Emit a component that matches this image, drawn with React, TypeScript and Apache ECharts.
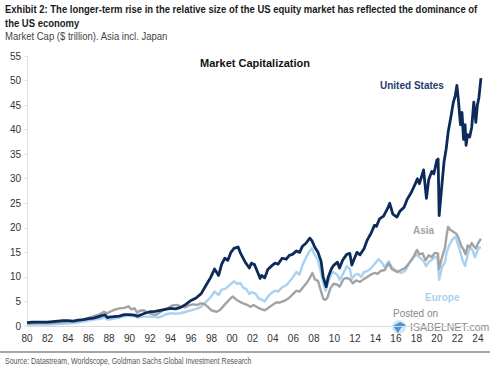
import React, { useEffect, useRef } from "react";
import * as echarts from "echarts";

// [year, $ trillion]
const usData: [number, number][] = [
  [1980.0, 0.7], [1980.5, 0.8], [1981.0, 0.8], [1981.5, 0.8], [1982.0, 0.8], [1982.5, 0.9],
  [1983.0, 1.0], [1983.5, 1.1], [1984.0, 1.1], [1984.5, 1.0], [1985.0, 1.2], [1985.5, 1.3],
  [1986.0, 1.5], [1986.5, 1.6], [1987.0, 1.9], [1987.6, 2.3], [1987.85, 1.7], [1988.0, 1.8],
  [1988.5, 1.9], [1989.0, 2.0], [1989.5, 2.3], [1990.0, 2.3], [1990.5, 2.2], [1990.8, 2.0],
  [1991.0, 2.2], [1991.5, 2.6], [1992.0, 2.9], [1992.5, 3.0], [1993.0, 3.2], [1993.5, 3.4],
  [1994.0, 3.6], [1994.5, 3.5], [1995.0, 3.8], [1995.5, 4.4], [1996.0, 5.2], [1996.5, 5.7],
  [1997.0, 6.6], [1997.5, 8.4], [1997.9, 9.8], [1998.3, 11.6], [1998.7, 10.3], [1999.0, 12.6],
  [1999.3, 13.8], [1999.6, 13.4], [1999.9, 15.0], [2000.2, 15.8], [2000.6, 16.1], [2000.8, 15.0],
  [2001.0, 14.2], [2001.3, 13.0], [2001.7, 11.8], [2001.9, 12.8], [2002.2, 12.5], [2002.5, 11.0],
  [2002.75, 9.7], [2002.9, 10.3], [2003.2, 9.8], [2003.5, 11.5], [2003.9, 12.3], [2004.2, 12.8],
  [2004.5, 12.6], [2004.9, 13.8], [2005.3, 13.6], [2005.6, 14.4], [2005.9, 14.6], [2006.3, 15.3],
  [2006.6, 15.0], [2006.9, 16.3], [2007.2, 16.8], [2007.6, 17.9], [2007.8, 17.4], [2008.1, 16.0],
  [2008.4, 15.0], [2008.7, 13.2], [2008.9, 10.0], [2009.2, 8.0], [2009.4, 10.0], [2009.7, 11.6],
  [2009.9, 12.3], [2010.3, 13.0], [2010.5, 11.8], [2010.8, 13.4], [2011.2, 14.6], [2011.5, 14.8],
  [2011.7, 12.4], [2011.9, 13.5], [2012.2, 15.0], [2012.5, 14.5], [2012.9, 15.8], [2013.2, 17.5],
  [2013.6, 19.0], [2013.9, 20.5], [2014.1, 20.3], [2014.4, 21.8], [2014.8, 22.4], [2015.2, 24.0],
  [2015.4, 25.0], [2015.7, 22.8], [2016.1, 22.2], [2016.4, 23.4], [2016.8, 24.2], [2017.1, 25.8],
  [2017.5, 27.2], [2017.9, 29.0], [2018.1, 30.0], [2018.3, 29.0], [2018.7, 31.8], [2018.98, 26.0],
  [2019.2, 29.8], [2019.5, 31.5], [2019.7, 31.0], [2020.0, 33.8], [2020.12, 34.0], [2020.22, 22.5],
  [2020.5, 29.0], [2020.7, 33.5], [2020.9, 36.0], [2021.1, 39.5], [2021.4, 43.0], [2021.6, 45.5],
  [2021.8, 47.0], [2021.95, 49.0], [2022.1, 46.0], [2022.3, 41.0], [2022.45, 43.5], [2022.6, 38.0],
  [2022.75, 41.0], [2022.85, 36.8], [2023.0, 39.0], [2023.2, 38.5], [2023.4, 40.5], [2023.6, 45.6],
  [2023.8, 41.5], [2023.95, 45.0], [2024.1, 46.5], [2024.3, 50.5],
];

const asiaData: [number, number][] = [
  [1980.0, 0.5], [1980.5, 0.5], [1981.0, 0.6], [1982.0, 0.6], [1982.5, 0.6], [1983.0, 0.7],
  [1984.0, 0.9], [1985.0, 1.1], [1985.5, 1.3], [1986.0, 1.6], [1986.5, 2.0], [1987.0, 2.3],
  [1987.5, 2.9], [1987.85, 2.6], [1988.0, 2.8], [1988.5, 3.3], [1989.0, 3.6], [1989.5, 3.7],
  [1989.9, 4.0], [1990.2, 3.4], [1990.5, 3.6], [1990.75, 2.7], [1991.0, 3.1], [1991.4, 3.2],
  [1991.8, 2.7], [1992.2, 2.4], [1992.6, 2.3], [1993.0, 2.8], [1993.4, 3.4], [1993.8, 3.7],
  [1994.2, 4.2], [1994.6, 4.3], [1995.0, 4.0], [1995.4, 3.8], [1995.8, 4.2], [1996.2, 4.4],
  [1996.6, 4.3], [1997.0, 4.6], [1997.3, 4.5], [1997.7, 3.8], [1998.0, 3.2], [1998.5, 2.9],
  [1998.8, 3.2], [1999.1, 3.9], [1999.5, 4.8], [1999.9, 5.7], [2000.1, 6.0], [2000.4, 5.4],
  [2000.8, 4.9], [2001.1, 4.6], [2001.5, 4.3], [2001.8, 3.9], [2002.1, 4.3], [2002.4, 3.9],
  [2002.8, 3.5], [2003.2, 3.2], [2003.5, 3.6], [2003.9, 4.2], [2004.3, 4.8], [2004.7, 4.8],
  [2005.1, 5.1], [2005.5, 5.6], [2005.9, 6.4], [2006.3, 7.2], [2006.6, 7.0], [2006.9, 7.8],
  [2007.3, 8.8], [2007.6, 9.8], [2007.85, 10.8], [2008.1, 9.5], [2008.4, 9.2], [2008.7, 7.0],
  [2008.9, 5.6], [2009.1, 5.3], [2009.3, 5.7], [2009.6, 7.6], [2009.9, 8.6], [2010.3, 8.4],
  [2010.5, 8.0], [2010.9, 9.6], [2011.2, 9.8], [2011.5, 9.5], [2011.8, 8.7], [2012.1, 9.3],
  [2012.5, 9.0], [2012.9, 9.6], [2013.2, 10.0], [2013.5, 10.4], [2013.9, 10.8], [2014.2, 10.6],
  [2014.5, 11.2], [2014.9, 11.4], [2015.3, 12.8], [2015.6, 11.6], [2016.1, 11.0], [2016.5, 11.4],
  [2016.9, 11.8], [2017.2, 12.6], [2017.6, 13.6], [2017.9, 14.8], [2018.05, 15.5], [2018.3, 14.6],
  [2018.6, 14.8], [2018.9, 13.4], [2019.2, 14.4], [2019.5, 14.0], [2019.8, 14.9], [2020.1, 14.8],
  [2020.22, 11.6], [2020.5, 14.0], [2020.8, 16.0], [2020.95, 18.5], [2021.1, 20.2], [2021.3, 19.6],
  [2021.6, 19.2], [2021.9, 18.8], [2022.1, 18.0], [2022.4, 16.2], [2022.6, 15.6], [2022.8, 14.6],
  [2023.0, 16.4], [2023.2, 16.0], [2023.4, 16.9], [2023.6, 16.2], [2023.8, 15.8], [2024.0, 16.8],
  [2024.3, 17.8],
];

const europeData: [number, number][] = [
  [1980.0, 0.3], [1981.0, 0.3], [1982.0, 0.3], [1983.0, 0.4], [1984.0, 0.5], [1985.0, 0.7],
  [1985.5, 0.9], [1986.0, 1.1], [1986.5, 1.3], [1987.0, 1.4], [1987.6, 1.7], [1987.85, 1.3],
  [1988.0, 1.3], [1988.5, 1.5], [1989.0, 1.7], [1989.5, 2.0], [1990.0, 2.1], [1990.5, 2.0],
  [1990.8, 1.7], [1991.2, 1.9], [1991.6, 1.9], [1992.0, 1.9], [1992.5, 1.9], [1992.8, 1.7],
  [1993.2, 2.0], [1993.6, 2.4], [1994.0, 2.6], [1994.5, 2.5], [1995.0, 2.6], [1995.5, 2.9],
  [1996.0, 3.2], [1996.5, 3.5], [1997.0, 3.9], [1997.5, 5.0], [1997.9, 5.8], [1998.3, 7.0],
  [1998.7, 6.3], [1999.0, 7.4], [1999.4, 7.6], [1999.8, 8.4], [2000.2, 9.1], [2000.5, 8.6],
  [2000.8, 8.8], [2001.1, 7.8], [2001.4, 7.5], [2001.7, 6.5], [2001.9, 6.9], [2002.3, 6.6],
  [2002.6, 5.6], [2002.9, 5.4], [2003.2, 5.0], [2003.5, 6.0], [2003.9, 6.8], [2004.2, 7.2],
  [2004.5, 7.0], [2004.9, 7.9], [2005.3, 8.3], [2005.6, 9.0], [2005.9, 9.8], [2006.3, 11.0],
  [2006.6, 10.5], [2006.9, 12.5], [2007.2, 13.8], [2007.5, 15.0], [2007.8, 15.8], [2008.0, 14.8],
  [2008.4, 13.4], [2008.7, 10.8], [2008.9, 8.8], [2009.15, 7.2], [2009.4, 9.0], [2009.7, 10.6],
  [2009.9, 11.0], [2010.3, 10.4], [2010.5, 9.4], [2010.9, 10.8], [2011.2, 12.2], [2011.5, 11.6],
  [2011.7, 9.6], [2012.0, 10.4], [2012.3, 10.6], [2012.6, 10.0], [2012.9, 11.0], [2013.2, 11.2],
  [2013.5, 11.6], [2013.9, 12.6], [2014.3, 13.6], [2014.6, 13.0], [2014.9, 12.0], [2015.3, 13.2],
  [2015.6, 12.0], [2016.1, 11.2], [2016.5, 10.8], [2016.9, 11.2], [2017.2, 12.4], [2017.5, 13.6],
  [2017.9, 14.4], [2018.1, 14.4], [2018.4, 13.8], [2018.7, 13.2], [2018.95, 12.2], [2019.2, 13.0],
  [2019.5, 13.5], [2019.8, 14.0], [2020.05, 14.2], [2020.22, 9.4], [2020.5, 12.0], [2020.8, 13.0],
  [2020.95, 15.0], [2021.2, 16.4], [2021.5, 17.6], [2021.8, 18.2], [2022.0, 17.0], [2022.3, 15.0],
  [2022.5, 13.4], [2022.75, 12.2], [2022.95, 14.0], [2023.2, 16.0], [2023.5, 15.4], [2023.7, 14.0],
  [2023.9, 15.0], [2024.1, 16.0], [2024.3, 16.0],
];

const headerLines = [
  "Exhibit 2: The longer-term rise in the relative size of the US equity market has reflected the dominance of",
  "the US economy",
];
const subtitle = "Market Cap ($ trillion). Asia incl. Japan";
const chartTitle = "Market Capitalization";
const sourceText = "Source: Datastream, Worldscope, Goldman Sachs Global Investment Research";

const US_COLOR = "#0c2b5a";
const ASIA_COLOR = "#a3a3a3";
const EUROPE_COLOR = "#a8d1f2";
const SANS = "'Liberation Sans', Arial, sans-serif";

function fitScale(text: string, font: string, target: number): number {
  try {
    const ctx = document.createElement("canvas").getContext("2d");
    if (!ctx) return 1;
    ctx.font = font;
    const w = ctx.measureText(text).width;
    return w > 0 ? target / w : 1;
  } catch {
    return 1;
  }
}

export default function App() {
  const ref = useRef<HTMLDivElement>(null);
  useEffect(() => {
    if (!ref.current) return;
    const chart = echarts.init(ref.current, undefined, { renderer: "svg" });

    const headFont = `bold 11.5px ${SANS}`;
    const subFont = `10.5px ${SANS}`;
    const srcFont = `9px ${SANS}`;
    const headScale = fitScale(headerLines[0], headFont, 473);
    const subScale = fitScale(subtitle, subFont, 163);
    const srcScale = fitScale(sourceText, srcFont, 247);

    chart.setOption({
      animation: false,
      backgroundColor: "#ffffff",
      grid: { left: 27, right: 17, top: 56, bottom: 43, containLabel: false },
      xAxis: {
        type: "value",
        min: 1980,
        max: 2024.5,
        interval: 2,
        splitLine: { show: false },
        axisLine: { show: true, lineStyle: { color: "#d9d9d9", width: 1 } },
        axisTick: { show: false },
        axisLabel: {
          color: "#333",
          fontSize: 10,
          fontFamily: SANS,
          margin: 7,
          showMaxLabel: false,
          formatter: (v: number) =>
            Number.isInteger(v) ? String(v % 100).padStart(2, "0") : "",
        },
      },
      yAxis: {
        type: "value",
        min: 0,
        max: 55,
        interval: 5,
        splitLine: { show: false },
        axisLine: { show: true, lineStyle: { color: "#e3e3e3", width: 1 } },
        axisTick: { show: true, length: 3, lineStyle: { color: "#e3e3e3" } },
        axisLabel: { color: "#333", fontSize: 10, fontFamily: SANS, margin: 6 },
      },
      series: [
        {
          name: "Europe",
          type: "line",
          data: europeData,
          showSymbol: false,
          lineStyle: { color: EUROPE_COLOR, width: 2.4, join: "round" },
          itemStyle: { color: EUROPE_COLOR },
        },
        {
          name: "Asia",
          type: "line",
          data: asiaData,
          showSymbol: false,
          lineStyle: { color: ASIA_COLOR, width: 2.4, join: "round" },
          itemStyle: { color: ASIA_COLOR },
        },
        {
          name: "United States",
          type: "line",
          data: usData,
          showSymbol: false,
          lineStyle: { color: US_COLOR, width: 2.8, join: "round" },
          itemStyle: { color: US_COLOR },
        },
      ],
      graphic: [
        {
          type: "text", x: 5, y: 3, scaleX: headScale,
          style: { text: headerLines[0], fill: "#1a1a1a", font: headFont },
        },
        {
          type: "text", x: 5, y: 17, scaleX: headScale,
          style: { text: headerLines[1], fill: "#1a1a1a", font: headFont },
        },
        {
          type: "text", x: 5, y: 31, scaleX: subScale,
          style: { text: subtitle, fill: "#444", font: subFont },
        },
        {
          type: "text", x: 255, y: 63,
          style: { text: chartTitle, fill: "#111", font: `bold 11px ${SANS}`, align: "center", verticalAlign: "middle" },
        },
        {
          type: "text", x: 380, y: 85,
          style: { text: "United States", fill: "#1f3d6e", font: `bold 10px ${SANS}`, verticalAlign: "middle" },
        },
        {
          type: "text", x: 413, y: 230,
          style: { text: "Asia", fill: ASIA_COLOR, font: `bold 10px ${SANS}`, verticalAlign: "middle" },
        },
        {
          type: "text", x: 425, y: 297,
          style: { text: "Europe", fill: EUROPE_COLOR, font: `bold 10px ${SANS}`, verticalAlign: "middle" },
        },
        {
          type: "text", x: 393, y: 313,
          style: { text: "Posted on", fill: "#8a8a8a", font: `10px ${SANS}`, verticalAlign: "middle" },
        },
        {
          type: "circle", shape: { cx: 399, cy: 327, r: 7 },
          style: { fill: "#d3e6f6" },
        },
        {
          type: "polygon",
          shape: { points: [[393, 326], [400, 322], [406, 325], [401, 328], [398, 333]] },
          style: { fill: "#4f93cf" },
        },
        {
          type: "text", x: 410, y: 327,
          style: { text: "ISABELNET.com", fill: "#8a8a8a", font: `10.5px ${SANS}`, verticalAlign: "middle" },
        },
        {
          type: "line", shape: { x1: 0, y1: 352, x2: 490, y2: 352 },
          style: { stroke: "#a6a6a6", lineWidth: 2 },
        },
        {
          type: "text", x: 5, y: 357, scaleX: srcScale,
          style: { text: sourceText, fill: "#555", font: srcFont },
        },
      ],
    });
    return () => chart.dispose();
  }, []);
  return (
    <div
      ref={ref}
      style={{ position: "fixed", left: 0, top: 0, width: 500, height: 369, background: "#fff" }}
    />
  );
}
